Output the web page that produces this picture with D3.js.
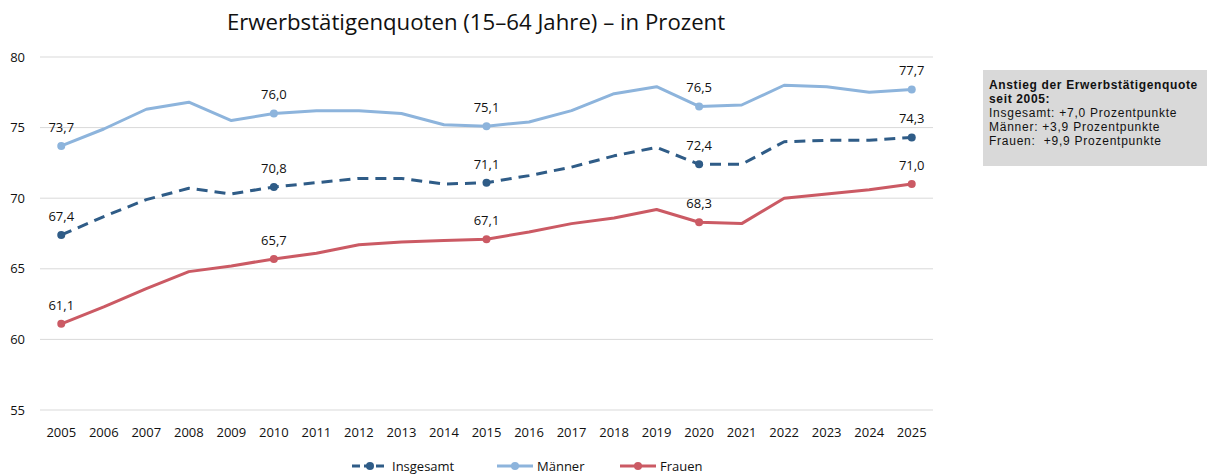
<!DOCTYPE html>
<html><head><meta charset="utf-8">
<script src="https://cdn.jsdelivr.net/npm/d3@7"></script>
<style>body{margin:0;background:#fff;} svg{display:block;font-family:"Open Sans",sans-serif;}</style>
</head><body>
<svg id="c" width="1208" height="474"></svg>
<script>
const years = ["2005","2006","2007","2008","2009","2010","2011","2012","2013","2014","2015","2016","2017","2018","2019","2020","2021","2022","2023","2024","2025"];
const insgesamt = [67.4,68.7,69.9,70.7,70.3,70.8,71.1,71.4,71.4,71.0,71.1,71.6,72.2,73.0,73.6,72.4,72.4,74.0,74.1,74.1,74.3];
const maenner = [73.7,74.9,76.3,76.8,75.5,76.0,76.2,76.2,76.0,75.2,75.1,75.4,76.2,77.4,77.9,76.5,76.6,78.0,77.9,77.5,77.7];
const frauen = [61.1,62.3,63.6,64.8,65.2,65.7,66.1,66.7,66.9,67.0,67.1,67.6,68.2,68.6,69.2,68.3,68.2,70.0,70.3,70.6,71.0];
const yTicks = [55,60,65,70,75,80];
const labelYears = ["2005","2010","2015","2020","2025"];
const title = "Erwerbstätigenquoten (15–64 Jahre) – in Prozent";
const noteLines = ["Anstieg der Erwerbstätigenquote","seit 2005:","Insgesamt: +7,0 Prozentpunkte","Männer: +3,9 Prozentpunkte","Frauen:  +9,9 Prozentpunkte"];

const series = [
  {name:"Insgesamt", values:insgesamt, color:"#2f5c87", dash:"11,7"},
  {name:"Männer", values:maenner, color:"#8db4dc", dash:null},
  {name:"Frauen", values:frauen, color:"#cb5a64", dash:null}
];

const svg = d3.select("#c");
const x = d3.scaleBand().domain(years).range([40,933]);
const y = d3.scaleLinear().domain([55,80]).range([410,57]);
const cx = d => x(d) + x.bandwidth()/2;

// grid
svg.append("g").selectAll("line").data(yTicks).join("line")
  .attr("x1",40).attr("x2",933).attr("y1",d=>y(d)).attr("y2",d=>y(d))
  .attr("stroke","#d9d9d9").attr("stroke-width",1);
svg.append("g").selectAll("text").data(yTicks).join("text")
  .attr("x",25).attr("y",d=>y(d)+4.5).attr("text-anchor","end")
  .attr("font-size",13).attr("fill","#111").text(d=>d);

// x labels
svg.append("g").selectAll("text").data(years).join("text")
  .attr("x",d=>cx(d)).attr("y",437).attr("text-anchor","middle")
  .attr("font-size",13).attr("fill","#111").text(d=>d);

// title
svg.append("text").attr("x",476).attr("y",30).attr("text-anchor","middle")
  .attr("font-size",22.2).attr("fill","#111").text(title);

const line = d3.line().x((d,i)=>cx(years[i])).y(d=>y(d));

series.forEach(s=>{
  svg.append("path").attr("d",line(s.values)).attr("fill","none")
    .attr("stroke",s.color).attr("stroke-width",3).attr("stroke-linejoin","round")
    .attr("stroke-dasharray",s.dash);
  const pts = years.map((yr,i)=>({yr,v:s.values[i]})).filter(p=>labelYears.includes(p.yr));
  svg.append("g").selectAll("circle").data(pts).join("circle")
    .attr("cx",p=>cx(p.yr)).attr("cy",p=>y(p.v)).attr("r",4).attr("fill",s.color);
  svg.append("g").selectAll("text").data(pts).join("text")
    .attr("x",p=>cx(p.yr)).attr("y",p=>y(p.v)-14).attr("text-anchor","middle")
    .attr("font-size",13).attr("fill","#111").text(p=>p.v.toFixed(1).replace(".",","));
});

// legend
const legX = [352,497,620];
series.forEach((s,i)=>{
  const g = svg.append("g").attr("transform",`translate(${legX[i]},466)`);
  g.append("line").attr("x1",0).attr("x2",36).attr("y1",0).attr("y2",0)
    .attr("stroke",s.color).attr("stroke-width",3).attr("stroke-dasharray",s.dash?"8,4":null);
  g.append("circle").attr("cx",18).attr("cy",0).attr("r",4).attr("fill",s.color);
  g.append("text").attr("x",40).attr("y",5).attr("font-size",13).attr("fill","#111").text(s.name);
});

// note box
svg.append("rect").attr("x",983).attr("y",70).attr("width",224).attr("height",96).attr("fill","#d9d9d9");
svg.append("g").selectAll("text").data(noteLines).join("text")
  .attr("x",989).attr("y",(d,i)=>89+i*13.9)
  .style("font-family","'Liberation Sans',Arial,sans-serif")
  .attr("font-size",12).attr("font-weight",(d,i)=>i<2?"bold":"normal")
  .attr("letter-spacing",(d,i)=>i<2?0.65:0.75)
  .style("white-space","pre")
  .attr("fill","#111").text(d=>d);
</script>
</body></html>
